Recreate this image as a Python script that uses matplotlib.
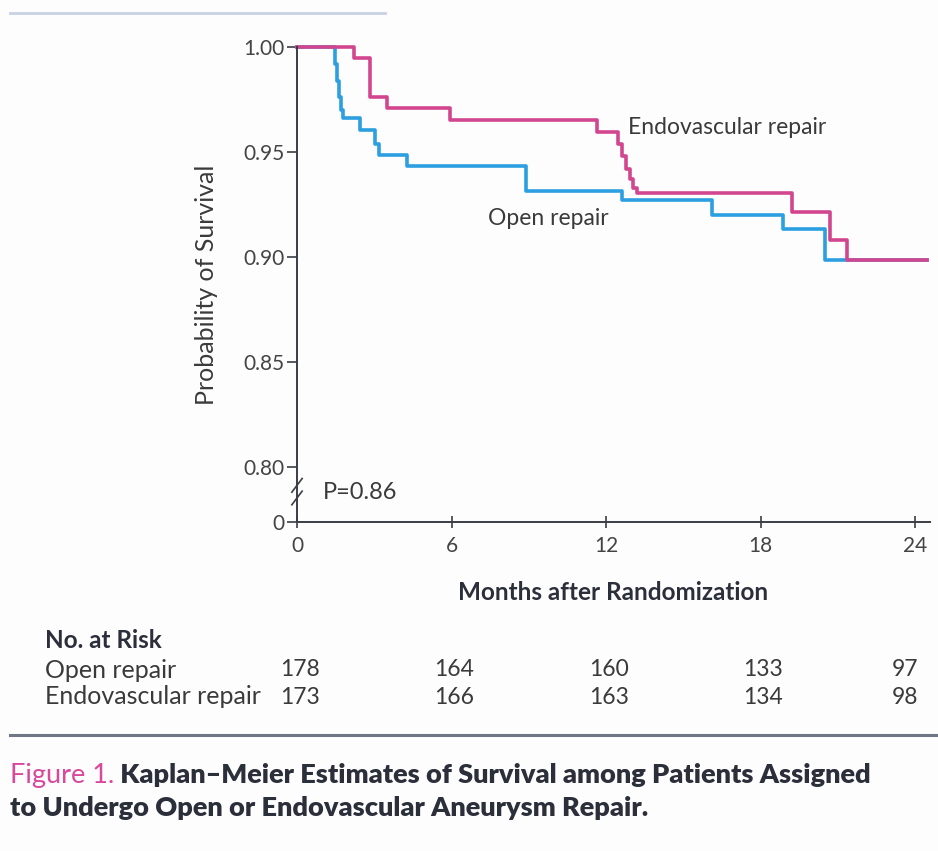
import matplotlib
matplotlib.use("Agg")
import matplotlib.pyplot as plt
import matplotlib.transforms as mtransforms

plt.rcParams['font.family'] = ['Lato', 'DejaVu Sans']

# Kaplan-Meier step data (months, survival probability)
open_t = [0, 1.48, 1.55, 1.62, 1.70, 1.80, 2.45, 3.03, 3.20, 4.26, 8.89, 12.61, 16.1, 18.89, 20.5, 24.45]
open_s = [1.0, 0.992, 0.984, 0.976, 0.970, 0.966, 0.9605, 0.954, 0.9486, 0.9433, 0.9316, 0.927, 0.920, 0.9132, 0.8986, 0.8986]

endo_t = [0, 2.23, 2.83, 3.48, 5.94, 11.64, 12.47, 12.62, 12.77, 12.92, 13.05, 13.19, 19.21, 20.7, 21.35, 24.45]
endo_s = [1.0, 0.9948, 0.9763, 0.9708, 0.9652, 0.9597, 0.954, 0.948, 0.942, 0.937, 0.933, 0.9303, 0.9216, 0.9081, 0.8986, 0.8986]

x_ticks = [0, 6, 12, 18, 24]
y_ticks = [0.80, 0.85, 0.90, 0.95, 1.00]
y_labels = ["0.80", "0.85", "0.90", "0.95", "1.00"]
zero_pos = 0.7738  # where the broken axis puts "0"

risk_groups = ["Open repair", "Endovascular repair"]
risk_open = [178, 164, 160, 133, 97]
risk_endo = [173, 166, 163, 134, 98]

blue = '#2c9fe0'
pink = '#d2468f'
dark = '#2b2f3a'
txt = '#3a3a3a'

fig = plt.figure(figsize=(9.38, 8.51), dpi=100)
fig.patch.set_facecolor('#fdfdfe')
ax = fig.add_axes([297/938, 1 - 522/851, (930-297)/938, (522-47)/851])
ax.set_facecolor('none')

ax.step(open_t, open_s, where='post', color=blue, lw=2.6, clip_on=False)
ax.step(endo_t, endo_s, where='post', color=pink, lw=2.6, clip_on=False)

ax.set_xlim(0, 24.58)
ax.set_ylim(zero_pos, 1.0)
for s in ['top', 'right']:
    ax.spines[s].set_visible(False)
for s in ['left', 'bottom']:
    ax.spines[s].set_color('#3a3d45')
    ax.spines[s].set_linewidth(1.4)

ax.set_xticks(x_ticks)
ax.set_xticklabels([str(v) for v in x_ticks])
ax.set_yticks([zero_pos] + y_ticks)
ax.set_yticklabels(["0"] + y_labels)
ax.tick_params(axis='y', direction='out', length=7, width=1.2, colors='#3a3d45',
               labelsize=15, labelcolor='#444444', pad=2)
ax.tick_params(axis='x', direction='inout', length=8, width=1.2, colors='#3a3d45',
               labelsize=15, labelcolor='#444444', pad=6)

# axis break marks
for dy in [0.0, 0.006]:
    ax.plot([-0.2, 0.2], [0.782 + dy, 0.7885 + dy], transform=ax.transData,
            color='#3a3d45', lw=1.2, clip_on=False)

ax.set_xlabel("Months after Randomization", fontsize=17.5, fontweight='bold',
              color=dark, labelpad=18)
ax.set_ylabel("Probability of Survival", fontsize=18, color=txt, labelpad=18)

ax.text(12.85, 0.9615, "Endovascular repair", fontsize=16.5, color=txt, va='center')
ax.text(7.4, 0.9185, "Open repair", fontsize=16.5, color=txt, va='center')
ax.text(1.0, 0.7878, "P=0.86", fontsize=17, color=txt, va='center')

# number at risk table
tr = mtransforms.blended_transform_factory(ax.transData, fig.transFigure)
fig.text(45/938, 1 - 640/851, "No. at Risk", fontsize=17.5, fontweight='bold',
         color=dark, va='center')
rows_y = [1 - 670/851, 1 - 697/851]
for name, vals, yy in zip(risk_groups, [risk_open, risk_endo], rows_y):
    fig.text(45/938, yy, name, fontsize=18, color=txt, va='center')
    for i, (xv, n) in enumerate(zip(x_ticks, vals)):
        ha = 'right' if i == len(vals) - 1 else 'center'
        xx = xv + 0.12 if ha == 'right' else xv + 0.1
        ax.text(xx, yy, str(n), transform=tr, fontsize=16.5, color=txt,
                ha=ha, va='center')

# rules
fig.add_artist(plt.Line2D([10/938, 1.0], [1 - 735/851] * 2, color='#6f7686', lw=2.2))
fig.add_artist(plt.Line2D([10/938, 385/938], [1 - 13/851] * 2, color='#c9d1e2', lw=2.0))

# caption
t1 = fig.text(10/938, 1 - 775/851, "Figure 1.", fontsize=19.5, color='#d9489a',
              va='center')
ax.annotate(" Kaplan\u2013Meier Estimates of Survival among Patients Assigned",
            xy=(1, 0.5), xycoords=t1, va='center', ha='left', fontsize=19.5,
            fontweight='heavy', color=dark, annotation_clip=False)
fig.text(10/938, 1 - 808/851, "to Undergo Open or Endovascular Aneurysm Repair.",
         fontsize=19.5, fontweight='heavy', color=dark, va='center')

fig.savefig("out.png", dpi=100, facecolor=fig.get_facecolor())
